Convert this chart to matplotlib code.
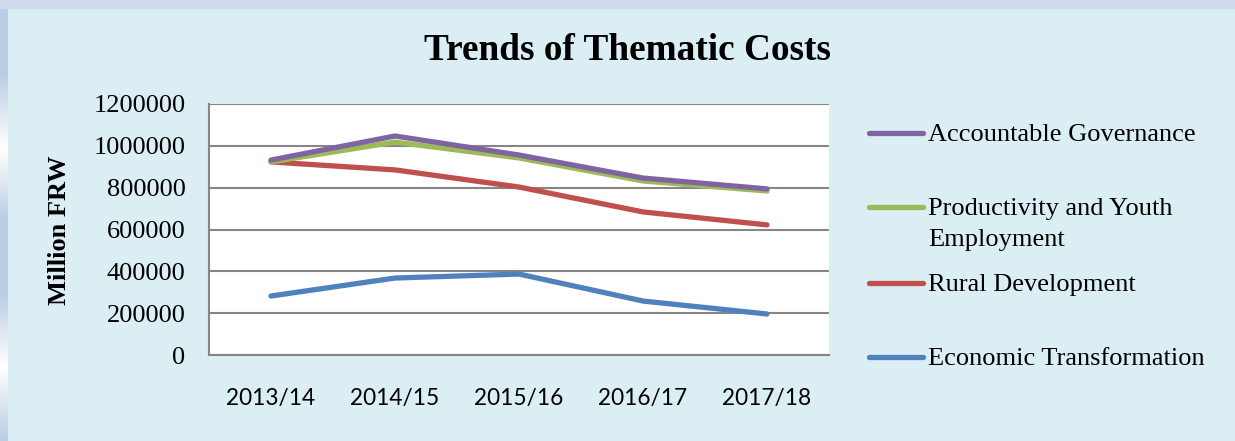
import numpy as np
import matplotlib.pyplot as plt
from matplotlib.colors import LinearSegmentedColormap
from matplotlib.lines import Line2D
from matplotlib.patches import Rectangle
from matplotlib.ticker import FuncFormatter

years = ["2013/14", "2014/15", "2015/16", "2016/17", "2017/18"]
economic = [282000, 368000, 387000, 258000, 196000]
rural = [923000, 885000, 803000, 684000, 622000]
productivity = [923000, 1018000, 942000, 832000, 784000]
accountable = [932000, 1047000, 956000, 846000, 794000]

series = [
    ("Economic Transformation", economic, "#4F81BD"),
    ("Rural Development", rural, "#C0504D"),
    ("Productivity and Youth\nEmployment", productivity, "#9BBB59"),
    ("Accountable Governance", accountable, "#8064A2"),
]

bg = "#DBEEF4"
W, H = 1235, 441
fig = plt.figure(figsize=(W / 100, H / 100), dpi=100, facecolor=bg)

# window edge: striped left bar and top bar
strip = LinearSegmentedColormap.from_list(
    "strip", ["#BACDE4", "#BACDE4", "#FFFFFF", "#BACDE4", "#BACDE4",
              "#FFFFFF", "#BACDE4"])
sax = fig.add_axes([0, 0, 8 / W, 1])
sax.imshow(np.linspace(0, 1, 441).reshape(-1, 1), aspect="auto", cmap=strip)
sax.axis("off")
fig.patches.append(Rectangle((0, 1 - 8 / H), 1, 8 / H, transform=fig.transFigure,
                             color="#D0DCEE", zorder=0))

ax = fig.add_axes([209 / W, 1 - 355 / H, 620 / W, 251 / H])
ax.set_facecolor("white")

x = list(range(len(years)))
for label, vals, col in series:
    ax.plot(x, vals, color=col, lw=3.8, solid_capstyle="round",
            solid_joinstyle="round")

ax.set_xlim(-0.5, len(years) - 0.5)
ax.set_ylim(0, 1200000)
ax.set_yticks(range(0, 1200001, 200000))
ax.yaxis.set_major_formatter(FuncFormatter(lambda v, p: f"{v:.0f}"))
ax.set_xticks(x)
ax.set_xticklabels(years, family="Lato", fontsize=16.3)
for t in ax.get_yticklabels():
    t.set_family("Liberation Serif")
    t.set_fontsize(19)
ax.tick_params(length=0)
ax.tick_params(axis="x", pad=24)
ax.tick_params(axis="y", pad=17)
ax.yaxis.grid(True, color="#868686", lw=1.5)
ax.set_axisbelow(True)
for s in ["top", "right"]:
    ax.spines[s].set_visible(False)
for s in ["left", "bottom"]:
    ax.spines[s].set_color("#868686")
    ax.spines[s].set_linewidth(1.5)

fig.text(627 / W, 1 - 50 / H, "Trends of Thematic Costs", ha="center",
         va="center", family="Liberation Serif", weight="bold", fontsize=26.8)
fig.text(60 / W, 1 - 230 / H, "Million FRW", ha="center", va="center",
         rotation=90, family="Liberation Serif", weight="bold", fontsize=19)

# legend, top to bottom
leg_y = [133, 207, 283, 357]
for (label, vals, col), yy in zip(reversed(series), leg_y):
    fig.lines.append(Line2D([869 / W, 923 / W], [1 - yy / H] * 2,
                            transform=fig.transFigure, color=col, lw=3.8,
                            solid_capstyle="round"))
    for i, part in enumerate(label.split("\n")):
        fig.text(928 / W, 1 - (yy + 2 + 31 * i) / H, part, ha="left",
                 va="center", family="Liberation Serif", fontsize=19)

fig.savefig("out.png", dpi=100, facecolor=bg)
